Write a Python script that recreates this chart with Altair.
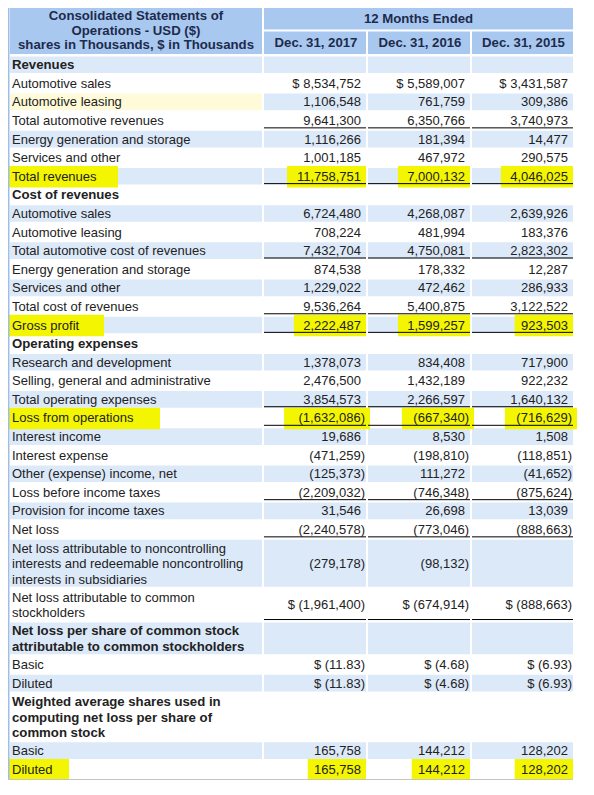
import altair as alt
import pandas as pd

# ---------------- data ----------------
labels = [
    "Revenues", "Automotive sales", "Automotive leasing", "Total automotive revenues",
    "Energy generation and storage", "Services and other", "Total revenues",
    "Cost of revenues", "Automotive sales", "Automotive leasing", "Total automotive cost of revenues",
    "Energy generation and storage", "Services and other", "Total cost of revenues", "Gross profit",
    "Operating expenses", "Research and development", "Selling, general and administrative",
    "Total operating expenses", "Loss from operations", "Interest income", "Interest expense",
    "Other (expense) income, net", "Loss before income taxes", "Provision for income taxes", "Net loss",
    "Net loss attributable to noncontrolling\ninterests and redeemable noncontrolling\ninterests in subsidiaries",
    "Net loss attributable to common\nstockholders",
    "Net loss per share of common stock\nattributable to common stockholders",
    "Basic", "Diluted",
    "Weighted average shares used in\ncomputing net loss per share of\ncommon stock",
    "Basic", "Diluted",
]
dec2017 = ["", "$ 8,534,752", "1,106,548", "9,641,300", "1,116,266", "1,001,185", "11,758,751",
           "", "6,724,480", "708,224", "7,432,704", "874,538", "1,229,022", "9,536,264", "2,222,487",
           "", "1,378,073", "2,476,500", "3,854,573", "(1,632,086)", "19,686", "(471,259)", "(125,373)",
           "(2,209,032)", "31,546", "(2,240,578)",
           "(279,178)", "$ (1,961,400)", "", "$ (11.83)", "$ (11.83)", "", "165,758", "165,758"]
dec2016 = ["", "$ 5,589,007", "761,759", "6,350,766", "181,394", "467,972", "7,000,132",
           "", "4,268,087", "481,994", "4,750,081", "178,332", "472,462", "5,400,875", "1,599,257",
           "", "834,408", "1,432,189", "2,266,597", "(667,340)", "8,530", "(198,810)", "111,272",
           "(746,348)", "26,698", "(773,046)",
           "(98,132)", "$ (674,914)", "", "$ (4.68)", "$ (4.68)", "", "144,212", "144,212"]
dec2015 = ["", "$ 3,431,587", "309,386", "3,740,973", "14,477", "290,575", "4,046,025",
           "", "2,639,926", "183,376", "2,823,302", "12,287", "286,933", "3,122,522", "923,503",
           "", "717,900", "922,232", "1,640,132", "(716,629)", "1,508", "(118,851)", "(41,652)",
           "(875,624)", "13,039", "(888,663)",
           "", "$ (888,663)", "", "$ (6.93)", "$ (6.93)", "", "128,202", "128,202"]

title_text = "Consolidated Statements of\nOperations - USD ($)\nshares in Thousands, $ in Thousands"
period_text = "12 Months Ended"
column_headers = ["Dec. 31, 2017", "Dec. 31, 2016", "Dec. 31, 2015"]
section_rows = [0, 7, 15, 28, 31]          # bold heading rows
underline_rows = [3, 6, 10, 13, 14, 18, 19, 23, 25, 27]
highlight_rows = [6, 14, 19, 33]
soft_label_rows = [2]                      # pale yellow label cell

# ---------------- layout ----------------
HEAD_BG = "#a9c8f0"
STRIPE = "#dce9f9"
SOFT_YEL = "#fffbd8"
HILITE = "#f3f600"
HEAD_TXT = "#1d2b4c"
TXT = "#222222"
FONT = "Liberation Sans"
FS = 13
FS_B = 13.2

label_cell = (5, 257)
val_cells = [(259, 361), (363, 465), (467, 568)]
BODY_TOP = 51.5
ROW_H = 19.0
LINE_H = 15.5
HEAD_LH = 14.5

values = [dec2017, dec2016, dec2015]

rows_top, rows_bot = [], []
yy = BODY_TOP
for lab in labels:
    n = lab.count("\n") + 1
    h = ROW_H + LINE_H * (n - 1)
    rows_top.append(yy)
    rows_bot.append(yy + h)
    yy += h
TABLE_BOTTOM = yy

rects, rules, lab_reg, lab_bold, vals, heads = [], [], [], [], [], []

def first_line_y(mid, txt, lh):
    n = txt.count("\n") + 1
    return mid - (n - 1) * lh / 2

# header cells
rects.append(dict(x=label_cell[0], x2=label_cell[1], y=3, y2=50, c=HEAD_BG))
rects.append(dict(x=val_cells[0][0], x2=val_cells[2][1], y=3, y2=25, c=HEAD_BG))
for (a, b) in val_cells:
    rects.append(dict(x=a, x2=b, y=27, y2=50, c=HEAD_BG))
heads.append(dict(x=(label_cell[0] + label_cell[1]) / 2, y=first_line_y(26, title_text, HEAD_LH),
                  t=title_text))
heads.append(dict(x=(val_cells[0][0] + val_cells[2][1]) / 2, y=14, t=period_text))
for (a, b), h in zip(val_cells, column_headers):
    heads.append(dict(x=(a + b) / 2 + 1, y=39, t=h))

def anchor(col, txt):
    right = val_cells[col][1]
    return right - 1 if txt.endswith(")") else right - 5

for i, lab in enumerate(labels):
    t, b = rows_top[i], rows_bot[i]
    mid = (t + b) / 2
    if i % 2 == 0:
        rects.append(dict(x=label_cell[0], x2=label_cell[1], y=t + 1, y2=b - 1,
                          c=SOFT_YEL if i in soft_label_rows else STRIPE))
        for (a, bb) in val_cells:
            rects.append(dict(x=a, x2=bb, y=t + 1, y2=b - 1, c=STRIPE))
    elif i in soft_label_rows:
        rects.append(dict(x=label_cell[0], x2=label_cell[1], y=t + 1, y2=b - 1, c=SOFT_YEL))
    (lab_bold if i in section_rows else lab_reg).append(
        dict(x=7, y=first_line_y(mid, lab, LINE_H) + 0.5, t=lab))
    for c in range(3):
        v = values[c][i]
        if v:
            vals.append(dict(x=anchor(c, v), y=mid + 0.5, t=v))
    if i in underline_rows:
        for (a, bb) in val_cells:
            rules.append(dict(x=a, x2=bb, y=b - 2, y2=b - 2, c="#000000", w=1))

# highlighter strokes
for i in highlight_rows:
    t, b = rows_top[i], rows_bot[i]
    first = labels[i].split("\n")[0]
    rects.append(dict(x=3, x2=7 + len(first) * 7.0 + 8, y=t - 1, y2=b + 2, c=HILITE))
    for c in range(3):
        v = values[c][i]
        ax = anchor(c, v)
        rects.append(dict(x=ax - len(v) * 6.9 - 5, x2=ax + 5, y=t - 1, y2=b + 2, c=HILITE))

# borders
rules.append(dict(x=3.5, x2=3.5, y=3, y2=TABLE_BOTTOM + 1, c="#9fbde9", w=2))
rules.append(dict(x=3, x2=val_cells[2][1], y=TABLE_BOTTOM + 1, y2=TABLE_BOTTOM + 1, c="#c4c4c4", w=1))

# ---------------- chart ----------------
W, H = 578, 772
xs = alt.Scale(domain=[3, 3 + W], nice=False, zero=False)
ys = alt.Scale(domain=[3, 792], nice=False, zero=False, reverse=True)
X = lambda: alt.X("x:Q", scale=xs, axis=None)
Y = lambda: alt.Y("y:Q", scale=ys, axis=None)

rect_layer = alt.Chart(pd.DataFrame(rects)).mark_rect().encode(
    x=X(), x2="x2:Q", y=Y(), y2="y2:Q", color=alt.Color("c:N", scale=None))
rule_layer = alt.Chart(pd.DataFrame(rules)).mark_rule().encode(
    x=X(), x2="x2:Q", y=Y(), y2="y2:Q", color=alt.Color("c:N", scale=None),
    strokeWidth=alt.StrokeWidth("w:Q", scale=None))
lab_layer = alt.Chart(pd.DataFrame(lab_reg)).mark_text(
    align="left", baseline="middle", font=FONT, fontSize=FS, lineBreak="\n",
    lineHeight=LINE_H, color=TXT).encode(x=X(), y=Y(), text="t:N")
bold_layer = alt.Chart(pd.DataFrame(lab_bold)).mark_text(
    align="left", baseline="middle", font=FONT, fontSize=FS_B, fontWeight="bold",
    lineBreak="\n", lineHeight=LINE_H, color=TXT).encode(x=X(), y=Y(), text="t:N")
val_layer = alt.Chart(pd.DataFrame(vals)).mark_text(
    align="right", baseline="middle", font=FONT, fontSize=FS, color=TXT).encode(
    x=X(), y=Y(), text="t:N")
head_layer = alt.Chart(pd.DataFrame(heads)).mark_text(
    align="center", baseline="middle", font=FONT, fontSize=FS_B, fontWeight="bold",
    lineBreak="\n", lineHeight=HEAD_LH, color=HEAD_TXT).encode(x=X(), y=Y(), text="t:N")

chart = alt.layer(rect_layer, rule_layer, lab_layer, bold_layer, val_layer, head_layer).properties(
    width=W, height=H, autosize=alt.AutoSizeParams(type="none"), padding=0,
    background="white").configure_view(stroke=None)

chart.save("out.html", embed_options={"renderer": "svg", "actions": False})
